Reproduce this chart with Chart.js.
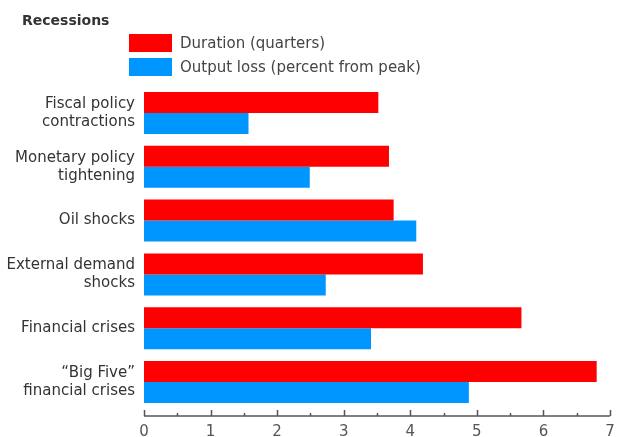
<!DOCTYPE html>
<html>
<head>
<meta charset="utf-8">
<script src="https://cdn.jsdelivr.net/npm/chart.js@4/dist/chart.umd.min.js"></script>
<style>
  html, body { margin:0; padding:0; background:#fff; }
  #wrap { position:relative; width:617px; height:437px; font-family:"DejaVu Sans", sans-serif; }
  #title { position:absolute; left:22px; top:12px; font-weight:bold; font-size:14px; color:#333; }
  #legend { position:absolute; left:129px; top:34px; }
  .leg-row { display:flex; align-items:center; height:18px; margin-bottom:6px; }
  .leg-box { width:43px; height:18px; margin-right:8px; }
  .leg-text { font-size:15px; color:#444; }
  canvas { position:absolute; left:0; top:0; }
</style>
</head>
<body>
<div id="wrap">
  <canvas id="chart" width="617" height="437"></canvas>
  <div id="title">Recessions</div>
  <div id="legend"></div>
</div>
<script>
// categories (top to bottom)
const CATEGORIES = [
  ['Fiscal policy', 'contractions'],
  ['Monetary policy', 'tightening'],
  'Oil shocks',
  ['External demand', 'shocks'],
  'Financial crises',
  ['\u201CBig Five\u201D', 'financial crises'],
];
const SERIES_LABELS = ['Duration (quarters)', 'Output loss (percent from peak)'];
const SERIES_COLORS = ['#ff0000', '#0096ff'];
const DURATION = [3.52, 3.68, 3.75, 4.19, 5.67, 6.80];
const OUTPUT_LOSS = [1.57, 2.49, 4.09, 2.73, 3.41, 4.88];
const X_MIN = 0, X_MAX = 7;

// legend
document.getElementById('legend').innerHTML = SERIES_LABELS.map((l, i) =>
  `<div class="leg-row"><span class="leg-box" style="background:${SERIES_COLORS[i]}"></span><span class="leg-text">${l}</span></div>`
).join('');

// draws the bottom axis line with inward tick marks
const axisPlugin = {
  id: 'axisLine',
  afterDraw(chart) {
    const x = chart.scales.x;
    const ctx = chart.ctx;
    const y = chart.chartArea.bottom + 7;
    ctx.save();
    ctx.strokeStyle = '#555';
    ctx.lineWidth = 1.5;
    ctx.beginPath();
    ctx.moveTo(x.getPixelForValue(X_MIN), y);
    ctx.lineTo(x.getPixelForValue(X_MAX), y);
    x.ticks.forEach(t => {
      const px = Math.round(x.getPixelForValue(t.value)) + 0.5;
      const len = Number.isInteger(t.value) ? 6 : 3;
      ctx.moveTo(px, y);
      ctx.lineTo(px, y - len);
    });
    ctx.stroke();
    ctx.restore();
  }
};

new Chart(document.getElementById('chart'), {
  type: 'bar',
  data: {
    labels: CATEGORIES,
    datasets: [
      { label: SERIES_LABELS[0], data: DURATION, backgroundColor: SERIES_COLORS[0] },
      { label: SERIES_LABELS[1], data: OUTPUT_LOSS, backgroundColor: SERIES_COLORS[1] },
    ]
  },
  options: {
    indexAxis: 'y',
    responsive: false,
    animation: false,
    datasets: { bar: { categoryPercentage: 0.78, barPercentage: 1.0 } },
    layout: { padding: { top: 86, right: 7, left: 0, bottom: 0 } },
    plugins: { legend: { display: false }, tooltip: { enabled: false } },
    scales: {
      x: {
        min: X_MIN, max: X_MAX,
        grid: { display: false, drawTicks: false },
        border: { display: false },
        ticks: {
          stepSize: 0.5, autoSkip: false, maxRotation: 0, padding: 14,
          color: '#555', font: { family: 'DejaVu Sans', size: 15 },
          callback: v => Number.isInteger(v) ? v : ''
        },
        afterFit: s => { s.height = 28; s.paddingLeft = 0; s.paddingRight = 0; }
      },
      y: {
        grid: { display: false, drawTicks: false },
        border: { display: false },
        ticks: {
          padding: 9, color: '#333',
          font: { family: 'DejaVu Sans', size: 15, lineHeight: 1.2 }
        },
        afterFit: s => { s.width = 144; s.paddingTop = 0; s.paddingBottom = 0; }
      }
    }
  },
  plugins: [axisPlugin]
});
</script>
</body>
</html>
